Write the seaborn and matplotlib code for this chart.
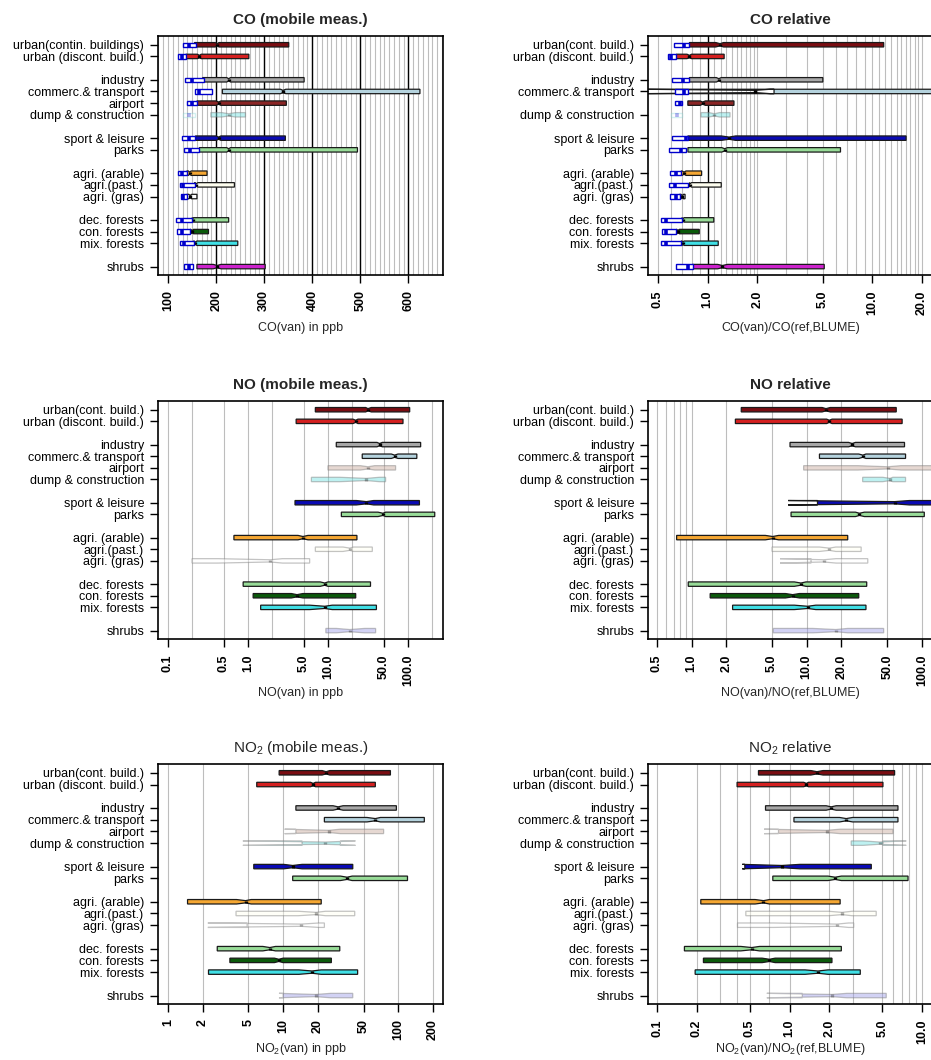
import matplotlib
matplotlib.use("Agg")
import matplotlib.pyplot as plt
import seaborn as sns
from matplotlib.ticker import NullLocator

sns.set_theme(style="white")
plt.rcParams["font.family"] = ["Liberation Sans", "DejaVu Sans"]
plt.rcParams["mathtext.fontset"] = "custom"
plt.rcParams["mathtext.rm"] = "Liberation Sans"
plt.rcParams["mathtext.it"] = "Liberation Sans:italic"
plt.rcParams["mathtext.bf"] = "Liberation Sans:bold"

# land-use classes, top to bottom (gaps separate the groups)
classes = ["urban(cont. build.)", "urban (discont. build.)", "industry",
           "commerc.& transport", "airport", "dump & construction",
           "sport & leisure", "parks", "agri. (arable)", "agri.(past.)",
           "agri. (gras)", "dec. forests", "con. forests", "mix. forests",
           "shrubs"]
classes_co = ["urban(contin. buildings)"] + classes[1:]
classes_co_rel = classes[:4] + [""] + classes[5:]
class_pos = [1, 2, 4, 5, 6, 7, 9, 10, 12, 13, 14, 16, 17, 18, 20]

# ---- CO, mobile measurements (ppb) ----
co_q1 = [155, 137, 172, 213, 160, 189, 157, 165, 139, 155, 139, 150, 146, 153, 160]
co_med = [202, 165, 226, 339, 205, 226, 205, 226, 145, 159, 146, 151, 150, 157, 202]
co_q3 = [351, 268, 383, 624, 346, 261, 344, 494, 181, 238, 160, 226, 184, 245, 302]
co_lo = [198, 161, 222, 334, 200, 212, 200, 222, 142, 156, 143, 150, 147, 154, 194]
co_hi = [206, 169, 230, 345, 210, 240, 210, 230, 148, 162, 149, 153, 153, 160, 210]
# CO at the reference stations (BLUME), ppb
co_ref_q1 = [130, 121, 135, 155, 139, 131, 128, 133, 120, 124, 126, 117, 119, 124, 133]
co_ref_med = [143, 129, 150, 165, 150, 143, 143, 145, 129, 130, 131, 128, 129, 133, 143]
co_ref_q3 = [158, 137, 174, 191, 160, 155, 157, 165, 139, 155, 139, 150, 146, 153, 152]

# ---- CO relative to BLUME ----
cor_q1 = [0.776, 0.646, 0.776, 2.53, 0.759, 0.912, 0.759, 0.76, 0.692, 0.776, 0.676, 0.698, 0.646, 0.692, 0.81]
cor_med = [1.19, 0.776, 1.17, 1.95, 0.933, 1.10, 1.35, 1.27, 0.72, 0.78, 0.70, 0.708, 0.66, 0.708, 1.23]
cor_q3 = [11.7, 1.26, 5.0, 30.0, 1.445, 1.368, 16.0, 6.4, 0.92, 1.21, 0.73, 1.09, 0.89, 1.16, 5.1]
cor_lo = [1.12, 0.75, 1.13, 0.40, 0.90, 1.02, 1.21, 1.22, 0.70, 0.776, 0.69, 0.698, 0.65, 0.70, 1.15]
cor_hi = [1.25, 0.80, 1.21, 2.40, 0.97, 1.18, 1.48, 1.32, 0.74, 0.80, 0.715, 0.72, 0.675, 0.72, 1.32]
cor_ref_q1 = [0.622, 0.575, 0.611, 0.637, 0.637, 0.603, 0.611, 0.583, 0.594, 0.583, 0.594, 0.52, 0.53, 0.52, 0.64]
cor_ref_med = [0.724, 0.60, 0.708, 0.724, 0.676, 0.65, 0.742, 0.685, 0.646, 0.63, 0.64, 0.557, 0.56, 0.56, 0.76]
cor_ref_q3 = [0.776, 0.646, 0.776, 0.759, 0.698, 0.698, 0.759, 0.742, 0.692, 0.759, 0.676, 0.698, 0.646, 0.692, 0.81]

# ---- NO, mobile measurements (ppb) ----
no_q1 = [6.95, 4.0, 12.7, 26.8, 10.0, 6.2, 3.87, 14.7, 0.667, 6.95, 0.2, 0.87, 1.16, 1.44, 9.4]
no_med = [31.6, 22.2, 44.2, 68.1, 31.6, 30.2, 30.2, 48.7, 4.87, 18.7, 1.9, 9.1, 4.1, 9.1, 18.7]
no_q3 = [105, 86.6, 144, 129, 70, 52.5, 139, 216, 23.0, 35.8, 5.9, 34, 22.2, 40.3, 39.4]
no_lo = [29.6, 20.5, 41.0, 61.9, 25.4, 14.0, 22.6, 42.2, 4.22, 15.4, 0.42, 8.0, 3.48, 5.9, 12.7]
no_hi = [34.8, 23.7, 47.8, 75.0, 38.3, 44.0, 37.3, 52.6, 5.62, 20.9, 2.7, 10.0, 4.87, 11.3, 28.7]

# ---- NO relative to BLUME ----
nor_q1 = [2.70, 2.40, 7.16, 12.9, 9.4, 30.6, 12.4, 7.31, 0.741, 5.0, 10.9, 0.935, 1.45, 2.27, 5.12]
nor_med = [14.7, 15.7, 24.8, 30.7, 50.5, 52.8, 58.0, 28.7, 5.06, 15.7, 14.0, 8.9, 7.55, 10.2, 17.9]
nor_q3 = [59.9, 67.4, 70.7, 72.2, 130, 72.2, 150, 105, 22.7, 29.7, 33.9, 33.2, 28.3, 32.7, 46.6]
nor_lo = [13.6, 14.9, 23.1, 28.3, 27.8, 45.7, 6.9, 26.5, 4.37, 12.9, 5.86, 7.8, 6.53, 7.8, 11.3]
nor_hi = [16.0, 16.6, 26.5, 32.7, 66.0, 56.0, 78.0, 31.7, 5.7, 17.9, 18.0, 9.86, 8.65, 12.0, 22.7]

# ---- NO2, mobile measurements (ppb) ----
no2_q1 = [9.23, 5.9, 12.9, 22.8, 12.9, 14.6, 5.56, 12.1, 1.48, 3.9, 4.87, 2.68, 3.45, 2.25, 10.0]
no2_med = [23.6, 18.2, 30.0, 63.1, 24.9, 23.3, 12.1, 35.9, 4.72, 19.3, 14.3, 7.66, 9.17, 17.8, 19.1]
no2_q3 = [85.3, 63.1, 96.1, 168, 74.5, 31.4, 40.2, 120, 21.4, 41.8, 22.8, 31.0, 26.2, 44.3, 40.2]
no2_lo = [21.8, 17.3, 27.1, 53.4, 10.3, 4.47, 10.1, 31.4, 3.94, 13.5, 2.22, 6.66, 8.4, 13.7, 9.2]
no2_hi = [25.4, 19.1, 33.1, 69.9, 31.4, 42.4, 14.6, 39.7, 5.28, 23.3, 20.5, 8.58, 10.0, 21.4, 26.0]

# ---- NO2 relative to BLUME ----
no2r_q1 = [0.583, 0.402, 0.659, 1.08, 0.826, 2.92, 0.46, 0.748, 0.214, 0.468, 0.405, 0.161, 0.224, 0.194, 1.25]
no2r_med = [1.61, 1.34, 2.06, 2.68, 1.91, 4.78, 0.875, 2.21, 0.636, 2.49, 2.28, 0.519, 0.706, 1.64, 2.09]
no2r_q3 = [6.21, 5.07, 6.58, 6.58, 6.04, 5.07, 4.14, 7.84, 2.41, 4.51, 3.05, 2.46, 2.09, 3.42, 5.37]
no2r_lo = [1.45, 1.28, 1.89, 2.39, 0.643, 3.6, 0.44, 1.95, 0.55, 1.97, 0.757, 0.429, 0.621, 1.31, 0.674]
no2r_hi = [1.79, 1.39, 2.25, 2.99, 2.41, 7.6, 1.2, 2.46, 0.706, 2.96, 2.79, 0.593, 0.779, 1.95, 2.71]

# class colours
colors_no = ["#7b0d12", "#d42020", "#a8a8a8", "#b5d3de", "#c9a99c", "#70e0e0",
             "#0a0ab4", "#98dc98", "#f5a733", "#fffff0", "#ffffff", "#98dc98",
             "#0b5a0b", "#40e0e6", "#9c9ce8"]
colors_co = colors_no[:4] + ["#8b2525"] + colors_no[5:14] + ["#cc22cc"]
faded_co = [5]
faded_no = [4, 5, 9, 10, 14]

W, H = 931, 1060
fig = plt.figure(figsize=(W / 100, H / 100), dpi=100)
col_x = [158, 648]
row_y = [(36, 275), (401, 639), (764, 1004)]
AX_W = 285


def make_axes(col, row):
    top, bottom = row_y[row]
    return fig.add_axes([col_x[col] / W, 1 - bottom / H, AX_W / W, (bottom - top) / H])


def box_stats(q1, med, q3, lo, hi):
    return [dict(q1=a, med=m, q3=b, cilo=c, cihi=d, whislo=a, whishi=b, fliers=[])
            for a, m, b, c, d in zip(q1, med, q3, lo, hi)]


def draw_panel(ax, q1, med, q3, lo, hi, colors, faded, labels, log, xlim,
               grid_gray, grid_black, ticks, ticklabels, title, title_bold,
               xlabel, label_off=53, ref=None):
    if log:
        ax.set_xscale("log")
    ax.set_xlim(*xlim)
    ax.set_ylim(20.72, 0.25)
    for g in grid_gray:
        ax.axvline(g, color="#bdbdbd", lw=0.8, zorder=0)
    for g in grid_black:
        ax.axvline(g, color="black", lw=1.0, zorder=0.5)

    art = ax.bxp(box_stats(q1, med, q3, lo, hi), positions=class_pos, widths=0.38,
                 orientation="horizontal", patch_artist=True, shownotches=True,
                 showcaps=False, showfliers=False, manage_ticks=False,
                 whiskerprops=dict(linewidth=0),
                 medianprops=dict(color="black", linewidth=2.4, solid_capstyle="butt"),
                 boxprops=dict(linewidth=0.9), zorder=2)
    for i, patch in enumerate(art["boxes"]):
        patch.set_facecolor(colors[i])
        if i in faded:
            patch.set_edgecolor("#7a7a7a")
            patch.set_alpha(0.45)
            art["medians"][i].set_alpha(0.3)
        else:
            patch.set_edgecolor("#1a1a1a")

    if ref is not None:
        rq1, rmed, rq3 = ref
        rstats = [dict(q1=a, med=m, q3=b, whislo=a, whishi=b, fliers=[])
                  for a, m, b in zip(rq1, rmed, rq3)]
        rart = ax.bxp(rstats, positions=class_pos, widths=0.38,
                      orientation="horizontal", patch_artist=True,
                      showcaps=False, showfliers=False, manage_ticks=False,
                      whiskerprops=dict(linewidth=0),
                      medianprops=dict(color="#0000cc", linewidth=2.6, solid_capstyle="butt"),
                      boxprops=dict(linewidth=1.0), zorder=3)
        for i, patch in enumerate(rart["boxes"]):
            patch.set_facecolor("white")
            patch.set_edgecolor("#0000cc")
            if i in faded:
                patch.set_alpha(0.3)
                patch.set_edgecolor("#70d0d0")
                rart["medians"][i].set_alpha(0.3)

    ax.xaxis.set_minor_locator(NullLocator())
    ax.set_xticks(ticks)
    ax.set_xticklabels(ticklabels, rotation=90, fontsize=9, fontweight="bold")
    ax.tick_params(axis="x", direction="out", length=6, width=1, pad=5,
                   bottom=True, colors="black")
    ypos = [p for p, l in zip(class_pos, labels) if l]
    ylab = [l for l in labels if l]
    ax.set_yticks(ypos)
    ax.set_yticklabels(ylab, fontsize=9)
    ax.tick_params(axis="y", direction="out", length=6, width=1, pad=4,
                   left=True, colors="black")
    ax.yaxis.set_minor_locator(NullLocator())
    for s in ax.spines.values():
        s.set_color("black")
        s.set_linewidth(1.2)
        s.set_zorder(5)
    h = ax.get_position().height * H
    ax.text(0.5, 1 + 16 / h, title, transform=ax.transAxes, ha="center",
            va="center", fontsize=11, fontweight="bold" if title_bold else "normal")
    ax.set_xlabel(xlabel, fontsize=9)
    ax.xaxis.label.set_va("center")
    ax.xaxis.set_label_coords(0.5, -label_off / h)


# CO (linear ppb axis)
ax = make_axes(0, 0)
draw_panel(ax, co_q1, co_med, co_q3, co_lo, co_hi, colors_co, faded_co, classes_co,
           False, (79, 672), list(range(80, 680, 10)), [200, 300, 400, 500, 600],
           [100, 200, 300, 400, 500, 600], ["100", "200", "300", "400", "500", "600"],
           "CO (mobile meas.)", True, "CO(van) in ppb",
           ref=(co_ref_q1, co_ref_med, co_ref_q3))

ax = make_axes(1, 0)
co_rel_grid = [round(0.5 + 0.1 * k, 1) for k in range(16) if round(0.5 + 0.1 * k, 1) != 1.0] \
    + list(range(3, 21))
draw_panel(ax, cor_q1, cor_med, cor_q3, cor_lo, cor_hi, colors_co, faded_co, classes_co_rel,
           True, (0.435, 23.3), co_rel_grid, [1.0],
           [0.5, 1, 2, 5, 10, 20], ["0.5", "1.0", "2.0", "5.0", "10.0", "20.0"],
           "CO relative", True, "CO(van)/CO(ref,BLUME)",
           ref=(cor_ref_q1, cor_ref_med, cor_ref_q3))

# NO
ax = make_axes(0, 1)
draw_panel(ax, no_q1, no_med, no_q3, no_lo, no_hi, colors_no, faded_no, classes,
           True, (0.075, 274), [0.1, 0.2, 0.5, 1, 2, 5, 10, 20, 50, 100, 200], [],
           [0.1, 0.5, 1, 5, 10, 50, 100], ["0.1", "0.5", "1.0", "5.0", "10.0", "50.0", "100.0"],
           "NO (mobile meas.)", True, "NO(van) in ppb", label_off=54)

ax = make_axes(1, 1)
draw_panel(ax, nor_q1, nor_med, nor_q3, nor_lo, nor_hi, colors_no, faded_no, classes,
           True, (0.418, 125), [0.5, 0.6, 0.7, 0.8, 0.9, 1, 2, 5, 10, 20, 50, 100], [],
           [0.5, 1, 2, 5, 10, 20, 50, 100],
           ["0.5", "1.0", "2.0", "5.0", "10.0", "20.0", "50.0", "100.0"],
           "NO relative", True, "NO(van)/NO(ref,BLUME)", label_off=54)

# NO2
ax = make_axes(0, 2)
draw_panel(ax, no2_q1, no2_med, no2_q3, no2_lo, no2_hi, colors_no, faded_no, classes,
           True, (0.82, 244), [1, 2, 5, 10, 20, 50, 100, 200], [],
           [1, 2, 5, 10, 20, 50, 100, 200], ["1", "2", "5", "10", "20", "50", "100", "200"],
           "NO$_2$ (mobile meas.)", False, "NO$_2$(van) in ppb", label_off=45)

ax = make_axes(1, 2)
draw_panel(ax, no2r_q1, no2r_med, no2r_q3, no2r_lo, no2r_hi, colors_no, faded_no, classes,
           True, (0.0855, 12.1),
           [0.1, 0.2, 0.3, 0.4, 0.5, 0.7, 1, 2, 3, 5, 6, 7, 8, 9, 10], [],
           [0.1, 0.2, 0.5, 1, 2, 5, 10], ["0.1", "0.2", "0.5", "1.0", "2.0", "5.0", "10.0"],
           "NO$_2$ relative", False, "NO$_2$(van)/NO$_2$(ref,BLUME)", label_off=45)

fig.savefig("out.png", dpi=100, facecolor="white")
